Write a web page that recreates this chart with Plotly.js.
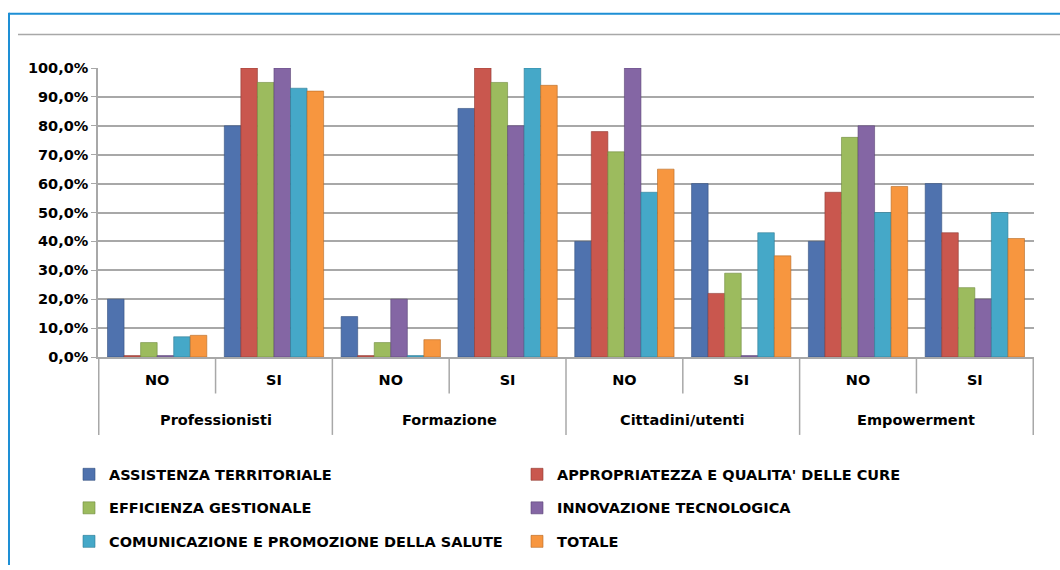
<!DOCTYPE html>
<html>
<head>
<meta charset="utf-8">
<script src="https://cdn.plot.ly/plotly-3.0.1.min.js"></script>
<style>
  html, body { margin: 0; padding: 0; background: #ffffff; }
  #chart { width: 1060px; height: 570px; }
</style>
</head>
<body>
<div id="chart"></div>
<script>
// ---- data ----
const groupNames = ["Professionisti", "Formazione", "Cittadini/utenti", "Empowerment"];
const groups = ["Professionisti", "Professionisti", "Formazione", "Formazione",
                "Cittadini/utenti", "Cittadini/utenti", "Empowerment", "Empowerment"];
const answers = ["NO", "SI", "NO", "SI", "NO", "SI", "NO", "SI"];

const seriesNames = [
  "ASSISTENZA TERRITORIALE",
  "APPROPRIATEZZA E QUALITA' DELLE CURE",
  "EFFICIENZA GESTIONALE",
  "INNOVAZIONE TECNOLOGICA",
  "COMUNICAZIONE E PROMOZIONE DELLA SALUTE",
  "TOTALE"
];

const assistenza     = [20, 80, 14, 86, 40, 60, 40, 60];
const appropriatezza = [0.5, 100, 0.5, 100, 78, 22, 57, 43];
const efficienza     = [5, 95, 5, 95, 71, 29, 76, 24];
const innovazione    = [0.5, 100, 20, 80, 100, 0.5, 80, 20];
const comunicazione  = [7, 93, 0.5, 100, 57, 43, 50, 50];
const totale         = [7.5, 92, 6, 94, 65, 35, 59, 41];

const yTicks = [0, 10, 20, 30, 40, 50, 60, 70, 80, 90, 100];
const yTickLabels = ["0,0%", "10,0%", "20,0%", "30,0%", "40,0%", "50,0%",
                     "60,0%", "70,0%", "80,0%", "90,0%", "100,0%"];

// unique category keys for the x axis, labelled with answers
const catKeys = groups.map((g, i) => g + " " + answers[i]);

// ---- styling ----
const colors = ["#4F72AE", "#C9574E", "#9CBB5E", "#8466A4", "#45A8C8", "#F7963F"];
const lineColors = ["#34507f", "#8f3a34", "#6f8a3c", "#5a4575", "#2d7a93", "#b56a25"];
const legendIds = ["legend", "legend", "legend2", "legend2", "legend3", "legend3"];
const allSeries = [assistenza, appropriatezza, efficienza, innovazione, comunicazione, totale];

const traces = allSeries.map((vals, i) => ({
  type: "bar",
  name: seriesNames[i],
  x: catKeys,
  y: vals,
  marker: { color: colors[i], line: { color: lineColors[i], width: 0.6 } },
  legend: legendIds[i],
  hoverinfo: "y+name"
}));

// pixel helpers (plot area: left 98, right 1034, top 68, bottom 361)
const L = 98, R = 1034, T = 68, B = 361;
const px = v => (v - L) / (R - L);
const py = v => (B - v) / (B - T);

const FAM = "DejaVu Sans, Arial, sans-serif";
const baseFont = { family: FAM, size: 14.5, color: "#000000", weight: "bold" };
const GRID = "#A8A8A8";

const legendCommon = {
  orientation: "h",
  x: px(69), xanchor: "left",
  yanchor: "middle",
  entrywidth: 403,
  font: baseFont,
  bgcolor: "rgba(0,0,0,0)",
  itemclick: false, itemdoubleclick: false
};

const shapes = [
  // blue frame
  { type: "line", xref: "paper", yref: "paper", x0: px(9), x1: px(1062), y0: py(13), y1: py(13),
    line: { color: "#1E8FD5", width: 2 } },
  { type: "line", xref: "paper", yref: "paper", x0: px(9), x1: px(9), y0: py(12), y1: py(572),
    line: { color: "#1E8FD5", width: 2 } },
  // top gray wall edge
  { type: "line", xref: "paper", yref: "paper", x0: px(18), x1: px(1062), y0: py(34), y1: py(34),
    line: { color: GRID, width: 1.5 } }
];
// category box dividers: long between groups, short between NO and SI
for (let k = 0; k <= 8; k++) {
  const long = (k % 2 === 0);
  shapes.push({ type: "line", xref: "x", yref: "paper", x0: k - 0.5, x1: k - 0.5,
    y0: 0, y1: long ? py(440) : py(398),
    line: { color: GRID, width: 1.5 } });
}

// group labels (second level of the category axis)
const annotations = groupNames.map((g, k) => ({
  text: g, xref: "x", yref: "paper", x: 2 * k + 0.5, y: py(425),
  xanchor: "center", yanchor: "middle", showarrow: false, font: baseFont
}));

const layout = {
  width: 1060, height: 570,
  margin: { l: L, r: 1060 - R, t: T, b: 570 - B, pad: 0 },
  paper_bgcolor: "#ffffff",
  plot_bgcolor: "#ffffff",
  barmode: "group",
  bargap: 0.15,
  bargroupgap: 0,
  showlegend: true,
  font: baseFont,
  xaxis: {
    type: "category",
    tickvals: catKeys, ticktext: answers,
    showline: true, linecolor: GRID, linewidth: 1.5,
    ticks: "", ticklabelstandoff: 9, tickfont: baseFont,
    showgrid: false, fixedrange: true
  },
  yaxis: {
    range: [0, 100],
    tickvals: yTicks, ticktext: yTickLabels,
    tickfont: { family: FAM, size: 14.5, color: "#000", weight: "bold" },
    showline: true, linecolor: GRID, linewidth: 1.5,
    ticks: "outside", ticklen: 5, tickcolor: GRID,
    showgrid: true, gridcolor: GRID, gridwidth: 1.5,
    zeroline: false,
    fixedrange: true
  },
  legend: Object.assign({}, legendCommon, { y: py(480) }),
  legend2: Object.assign({}, legendCommon, { y: py(514) }),
  legend3: Object.assign({}, legendCommon, { y: py(548) }),
  shapes: shapes,
  annotations: annotations
};

Plotly.newPlot("chart", traces, layout, { displayModeBar: false });
</script>
</body>
</html>
